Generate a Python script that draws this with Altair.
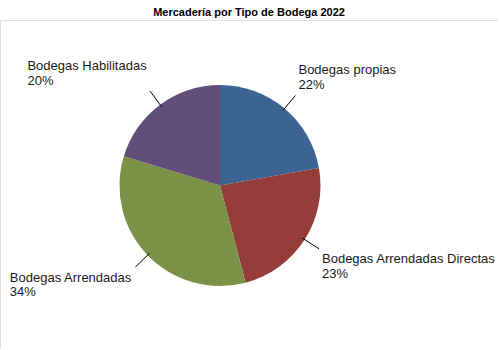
import math
import altair as alt
import pandas as pd

# ---- data ----
categories = ["Bodegas propias", "Bodegas Arrendadas Directas",
              "Bodegas Arrendadas", "Bodegas Habilitadas"]
shares = [22.2, 23.7, 33.8, 20.3]
pct_labels = ["22%", "23%", "34%", "20%"]
colors = ["#3E6494", "#943D3B", "#7B9147", "#624E7B"]
title_text = "Mercadería por Tipo de Bodega 2022"

# ---- layout constants ----
W, H = 498, 348
PAD_TOP = 20
CX, CY = 220, 185.5 - PAD_TOP
R = 100.5
R1, R2 = 97.5, 117.5
FONT = "Liberation Sans"
FS = 13

# Arial/Liberation Sans advance widths (1/1000 em), to size label blocks
ARIAL = {" ": 278, "A": 667, "B": 667, "D": 722, "H": 722, "a": 556, "b": 556,
         "c": 500, "d": 556, "e": 556, "g": 556, "i": 222, "l": 222, "n": 556,
         "o": 556, "p": 556, "r": 333, "s": 500, "t": 278, "%": 889}


def text_width(s, size=FS):
    return sum(ARIAL.get(ch, 556) for ch in s) * size / 1000.0


df = pd.DataFrame({
    "category": categories,
    "share": shares,
    "pct": pct_labels,
    "order": list(range(len(categories))),
    "name_w": [text_width(c) for c in categories],
})

base = alt.Chart(df)

pie = base.mark_arc(outerRadius=R).encode(
    theta=alt.Theta("share:Q", stack=True),
    color=alt.Color("category:N", scale=alt.Scale(domain=categories, range=colors), legend=None),
    order=alt.Order("order:Q"),
    x=alt.value(CX),
    y=alt.value(CY),
)

geo = base.transform_joinaggregate(
    total="sum(share)"
).transform_window(
    cum="sum(share)", sort=[alt.SortField("order")], frame=[None, 0]
).transform_calculate(
    mid="(datum.cum - datum.share/2) / datum.total * 2 * PI"
).transform_calculate(
    sx=f"{CX} + {R1} * sin(datum.mid)",
    sy=f"{CY} - {R1} * cos(datum.mid)",
    ex=f"{CX} + {R2} * sin(datum.mid)",
    ey=f"{CY} - {R2} * cos(datum.mid)",
).transform_calculate(
    lx="sin(datum.mid) >= 0 ? datum.ex + 3 : datum.ex - 3.4 - datum.name_w",
    ny="cos(datum.mid) > 0 ? datum.ey - 21 : datum.ey + 14.5",
).transform_calculate(
    py="datum.ny + 14.7"
)

leaders = geo.mark_rule(color="#000000", strokeWidth=1).encode(
    x=alt.X("sx:Q", scale=None, axis=None),
    y=alt.Y("sy:Q", scale=None, axis=None),
    x2="ex:Q",
    y2="ey:Q",
)

names = geo.mark_text(align="left", baseline="alphabetic", font=FONT,
                      fontSize=FS, color="#1a1a1a").encode(
    x=alt.X("lx:Q", scale=None, axis=None),
    y=alt.Y("ny:Q", scale=None, axis=None),
    text="category:N",
)

pcts = geo.mark_text(align="left", baseline="alphabetic", font=FONT,
                     fontSize=FS, color="#1a1a1a").encode(
    x=alt.X("lx:Q", scale=None, axis=None),
    y=alt.Y("py:Q", scale=None, axis=None),
    text="pct:N",
)

chart = alt.layer(pie, leaders, names, pcts).properties(
    width=W,
    height=H - PAD_TOP,
    autosize=alt.AutoSizeParams(type="none"),
    padding={"top": PAD_TOP, "left": 0, "right": 0, "bottom": 0},
    title=alt.TitleParams(title_text, font=FONT, fontSize=11, fontWeight="bold",
                          color="#000000", anchor="middle", offset=2),
).configure_view(stroke=None).configure(background="#ffffff")

chart.save("out.html", embed_options={"renderer": "svg", "actions": False})
